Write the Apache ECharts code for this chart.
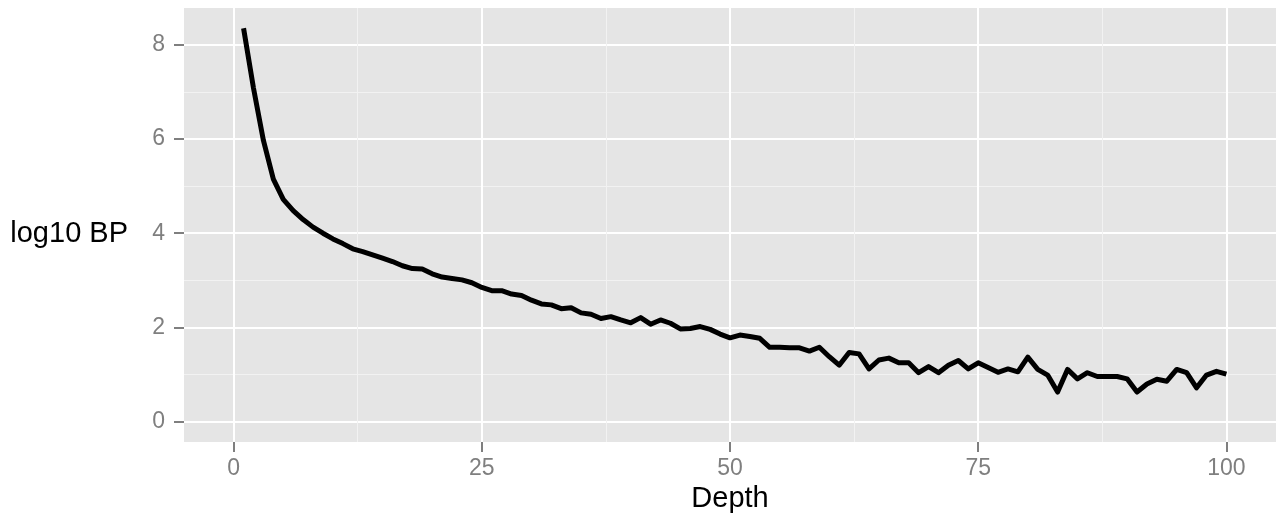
<!DOCTYPE html>
<html>
<head>
<meta charset="utf-8">
<script src="https://cdn.jsdelivr.net/npm/echarts@6/dist/echarts.min.js"></script>
<style>
  html, body { margin: 0; padding: 0; background: #fff; }
  #chart { width: 1276px; height: 521px; }
</style>
</head>
<body>
<div id="chart"></div>
<script>
// depth values (x) and log10 base pairs (y)
const depth = [
  1, 2, 3, 4, 5, 6, 7, 8, 9, 10,
  11, 12, 13, 14, 15, 16, 17, 18, 19, 20,
  21, 22, 23, 24, 25, 26, 27, 28, 29, 30,
  31, 32, 33, 34, 35, 36, 37, 38, 39, 40,
  41, 42, 43, 44, 45, 46, 47, 48, 49, 50,
  51, 52, 53, 54, 55, 56, 57, 58, 59, 60,
  61, 62, 63, 64, 65, 66, 67, 68, 69, 70,
  71, 72, 73, 74, 75, 76, 77, 78, 79, 80,
  81, 82, 83, 84, 85, 86, 87, 88, 89, 90,
  91, 92, 93, 94, 95, 96, 97, 98, 99, 100
];
const log10BP = [
  8.35, 7.08, 5.97, 5.15, 4.72, 4.48, 4.29, 4.13, 4.00, 3.88,
  3.78, 3.67, 3.61, 3.54, 3.47, 3.40, 3.31, 3.25, 3.24, 3.14,
  3.07, 3.04, 3.01, 2.95, 2.85, 2.78, 2.78, 2.71, 2.68, 2.58,
  2.50, 2.48, 2.40, 2.42, 2.31, 2.28, 2.19, 2.23, 2.16, 2.10,
  2.21, 2.07, 2.16, 2.09, 1.97, 1.98, 2.02, 1.96, 1.86, 1.78,
  1.84, 1.81, 1.77, 1.58, 1.58, 1.57, 1.57, 1.50, 1.58, 1.38,
  1.20, 1.47, 1.44, 1.12, 1.31, 1.35, 1.25, 1.25, 1.04, 1.17,
  1.04, 1.20, 1.30, 1.12, 1.25, 1.15, 1.05, 1.12, 1.06, 1.37,
  1.11, 0.99, 0.63, 1.11, 0.91, 1.04, 0.96, 0.96, 0.96, 0.91,
  0.63, 0.80, 0.90, 0.86, 1.11, 1.04, 0.72, 0.99, 1.07, 1.01
];

const xTicks = [0, 25, 50, 75, 100];
const xMinor = [12.5, 37.5, 62.5, 87.5];
const yTicks = [0, 2, 4, 6, 8];
const yMinor = [1, 3, 5, 7];

const FONT = '"Liberation Sans", Arial, sans-serif';
const GREY = '#7F7F7F';
const TICK_SIZE = 23;
const TITLE_SIZE = 29;

function majorAxis(min, max, ticks, extra) {
  return Object.assign({
    type: 'value',
    min: min,
    max: max,
    axisLine: { show: false, onZero: false },
    axisTick: {
      show: true, inside: false, length: 10, customValues: ticks,
      lineStyle: { color: GREY, width: 2 }
    },
    splitLine: { show: true, lineStyle: { color: '#FFFFFF', width: 2 } }
  }, extra);
}

function minorAxis(min, max, ticks, pos) {
  return {
    type: 'value',
    position: pos,
    min: min,
    max: max,
    axisLine: { show: false, onZero: false },
    axisTick: { show: false, customValues: ticks },
    axisLabel: { show: false, customValues: ticks },
    splitLine: { show: true, lineStyle: { color: '#F2F2F2', width: 1 } }
  };
}

const chart = echarts.init(document.getElementById('chart'), null, { renderer: 'canvas' });

chart.setOption({
  animation: false,
  backgroundColor: '#FFFFFF',
  grid: {
    left: 184, right: 0, top: 8, bottom: 79,
    outerBoundsMode: 'none',
    containLabel: false,
    show: true, backgroundColor: '#E5E5E5', borderWidth: 0
  },
  xAxis: [
    majorAxis(-5, 105, xTicks, {
      position: 'bottom',
      name: 'Depth',
      nameLocation: 'middle',
      nameGap: 42,
      nameTextStyle: { color: '#000', fontSize: TITLE_SIZE, fontFamily: FONT },
      axisLabel: { customValues: xTicks, color: GREY, fontSize: TICK_SIZE, fontFamily: FONT, margin: 15 }
    }),
    minorAxis(-5, 105, xMinor, 'bottom')
  ],
  yAxis: [
    majorAxis(-0.43, 8.78, yTicks, {
      position: 'left',
      name: 'log10 BP',
      nameLocation: 'middle',
      nameRotate: 0,
      nameGap: 56,
      nameTextStyle: {
        color: '#000', fontSize: TITLE_SIZE, fontFamily: FONT,
        align: 'right', verticalAlign: 'top', lineHeight: 18
      },
      axisLabel: { customValues: yTicks, color: GREY, fontSize: TICK_SIZE, fontFamily: FONT, margin: 19 }
    }),
    minorAxis(-0.43, 8.78, yMinor, 'left')
  ],
  series: [{
    type: 'line',
    data: depth.map((d, i) => [d, log10BP[i]]),
    showSymbol: false,
    lineStyle: { color: '#000000', width: 5, join: 'round' },
    z: 5
  }]
});
</script>
</body>
</html>
